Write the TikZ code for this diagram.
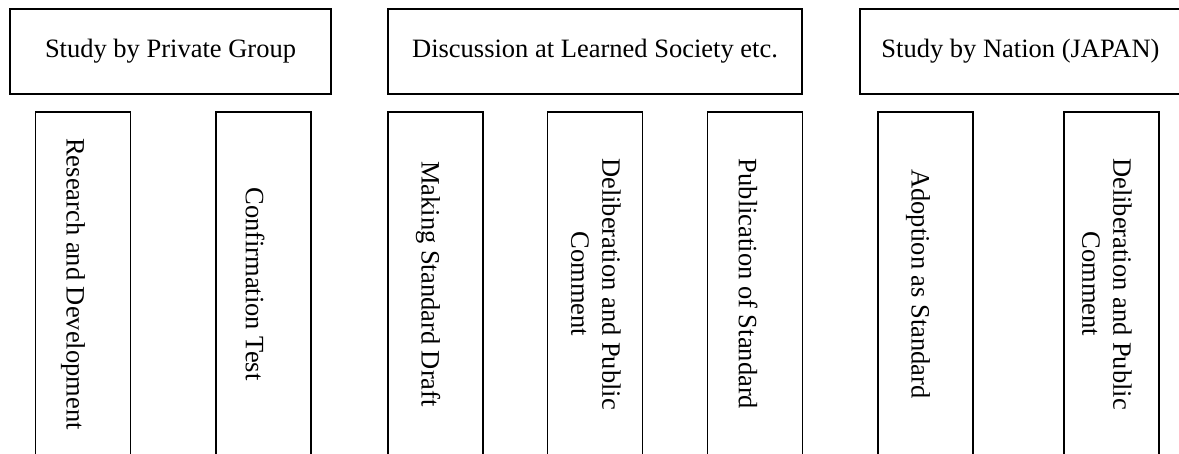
\documentclass[tikz,border=0pt]{standalone}
\usepackage{fontspec}
\setmainfont{Liberation Serif}
\begin{document}
\begin{tikzpicture}[x=1pt, y=-1pt,
  font=\fontsize{26.5}{31}\selectfont,
  topbox/.style={draw, line width=2pt, inner sep=0, minimum height=85pt},
  stepbox/.style={draw, line width=1.3pt, inner sep=0, minimum width=95pt, minimum height=344pt},
  steptext/.style={rotate=-90, align=center, inner sep=0}]
\useasboundingbox (0,0) rectangle (1179,454);
\node[topbox, minimum width=321pt] (private) at (170.5,51.5) {Study by Private Group};
\node[topbox, minimum width=414pt] (society) at (595,51.5) {Discussion at Learned Society etc.};
\node[topbox, minimum width=321pt] (nation) at (1020.5,51.5) {Study by Nation (JAPAN)};
\node[stepbox] (rd) at (83,284) {};
\node[steptext] (rdtext) at (73,284) {Research and Development};
\node[stepbox] (test) at (263.5,284) {};
\node[steptext] (testtext) at (255,284) {Confirmation Test};
\node[stepbox] (draft) at (435.5,284) {};
\node[steptext] (drafttext) at (428,284) {Making Standard Draft};
\node[stepbox] (delib) at (595,284) {};
\node[steptext] (delibtext) at (596,284) {Deliberation and Public\\Comment};
\node[stepbox] (publ) at (755,284) {};
\node[steptext] (publtext) at (748,284) {Publication of Standard};
\node[stepbox] (adopt) at (925.5,284) {};
\node[steptext] (adopttext) at (918,284) {Adoption as Standard};
\node[stepbox] (natdelib) at (1111.5,284) {};
\node[steptext] (natdelibtext) at (1107,284) {Deliberation and Public\\Comment};
\end{tikzpicture}
\end{document}
